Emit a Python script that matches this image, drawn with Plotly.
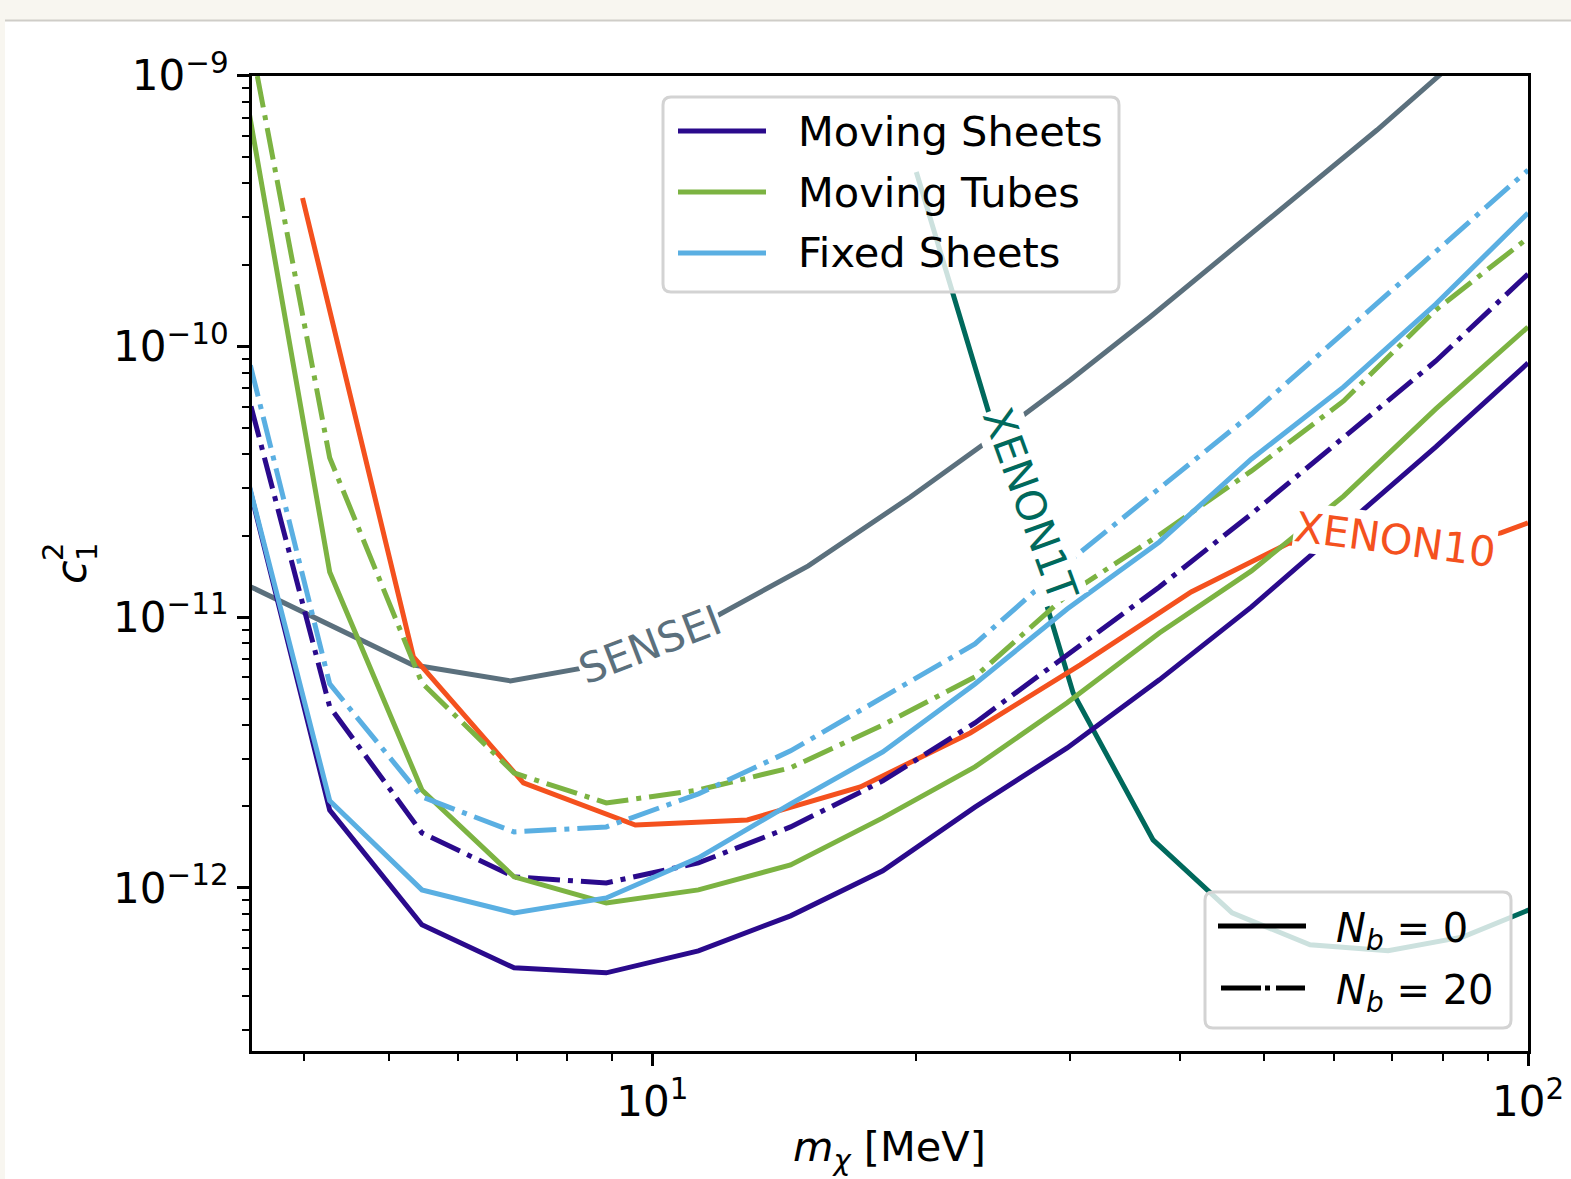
import math
import plotly.graph_objects as go

W, H = 1571, 1179

# ---------------- data ----------------
mass = [3.360, 4.281, 5.456, 6.952, 8.859, 11.288, 14.384, 18.330, 23.357,
        29.764, 37.927, 48.329, 61.585, 78.476, 100.0]

moving_sheets_nb0 = [4.52e-11, 1.94e-12, 7.31e-13, 5.07e-13, 4.86e-13, 5.86e-13, 7.89e-13,
                     1.157e-12, 1.99e-12, 3.29e-12, 5.87e-12, 1.092e-11, 2.156e-11, 4.26e-11, 8.69e-11]
moving_sheets_nb20 = [9.30e-11, 4.67e-12, 1.597e-12, 1.099e-12, 1.044e-12, 1.238e-12, 1.681e-12,
                      2.486e-12, 4.07e-12, 7.26e-12, 1.294e-11, 2.407e-11, 4.63e-11, 8.84e-11, 1.852e-10]
moving_tubes_nb0 = [1.28e-9, 1.47e-11, 2.30e-12, 1.099e-12, 8.81e-13, 9.84e-13, 1.217e-12,
                    1.815e-12, 2.80e-12, 4.83e-12, 8.75e-12, 1.483e-11, 2.80e-11, 5.88e-11, 1.180e-10]
moving_tubes_nb20 = [2.42e-9, 3.88e-11, 5.72e-12, 2.66e-12, 2.06e-12, 2.30e-12, 2.78e-12,
                     4.00e-12, 6.02e-12, 1.209e-11, 2.013e-11, 3.47e-11, 6.29e-11, 1.364e-10, 2.516e-10]
fixed_sheets_nb0 = [4.52e-11, 2.10e-12, 9.84e-13, 8.09e-13, 9.19e-13, 1.292e-12, 2.045e-12,
                    3.18e-12, 5.67e-12, 1.073e-11, 1.897e-11, 3.84e-11, 7.09e-11, 1.435e-10, 3.11e-10]
fixed_sheets_nb20 = [1.318e-10, 5.67e-12, 2.17e-12, 1.611e-12, 1.681e-12, 2.226e-12, 3.21e-12,
                     5.04e-12, 7.97e-12, 1.587e-11, 2.977e-11, 5.63e-11, 1.122e-10, 2.234e-10, 4.48e-10]

xenon10_mass = [3.986, 5.335, 7.125, 9.563, 12.836, 17.28, 23.07, 30.81, 41.24, 53.35, 71.44, 93.15, 100.0]
xenon10_c2 = [3.535e-10, 7.135e-12, 2.444e-12, 1.708e-12, 1.783e-12, 2.362e-12, 3.737e-12,
              6.67e-12, 1.240e-11, 1.881e-11, 1.728e-11, 2.048e-11, 2.23e-11]

sensei_mass = [3.351, 5.321, 6.884, 8.722, 11.345, 15.07, 19.71, 25.63, 30.01, 37.02, 67.23, 81.45]
sensei_c2 = [1.373e-11, 6.67e-12, 5.82e-12, 6.67e-12, 9.37e-12, 1.547e-11, 2.78e-11, 5.13e-11,
             7.52e-11, 1.285e-10, 6.30e-10, 1.086e-9]

xenon1t_mass = [20.02, 24.64, 30.24, 37.31, 45.93, 56.38, 69.22, 84.32, 103.5]
xenon1t_c2 = [4.41e-10, 4.75e-11, 5.25e-12, 1.505e-12, 8.09e-13, 6.17e-13, 5.86e-13, 6.60e-13, 8.66e-13]

legend_names = ["Moving Sheets", "Moving Tubes", "Fixed Sheets"]
nb_labels = ["<i>N</i><sub><i>b</i></sub> = 0", "<i>N</i><sub><i>b</i></sub> = 20"]

x_tickvals = [10, 100]
x_ticktext = ["10<sup>1</sup>", "10<sup>2</sup>"]
y_tickvals = [1e-12, 1e-11, 1e-10, 1e-9]
y_ticktext = ["10<sup>\u221212</sup>", "10<sup>\u221211</sup>", "10<sup>\u221210</sup>", "10<sup>\u22129</sup>"]
x_minor = [4, 5, 6, 7, 8, 9, 20, 30, 40, 50, 60, 70, 80, 90]
y_minor = [m * 10.0 ** e for e in (-13, -12, -11, -10) for m in range(2, 10) if m * 10.0 ** e >= 2.5e-13]

# ---------------- style ----------------
C_MS = "#2a0a8c"
C_MT = "#7cb342"
C_FS = "#5aafe2"
C_X10 = "#f4511e"
C_SEN = "#5b707d"
C_X1T = "#00695c"
FONT = "DejaVu Sans"
LW = 5
DASHDOT = "32px,8px,5px,8px"
FS_TEXT = 41.5
FS_TICK = 42

fig = go.Figure()

def add(x, y, color, dash="solid", width=LW):
    fig.add_trace(go.Scatter(x=x, y=y, mode="lines", showlegend=False,
                             line=dict(color=color, width=width, dash=dash),
                             hoverinfo="skip"))

add(sensei_mass, sensei_c2, C_SEN)
add(xenon1t_mass, xenon1t_c2, C_X1T)
add(xenon10_mass, xenon10_c2, C_X10)
add(mass, moving_sheets_nb0, C_MS)
add(mass, moving_sheets_nb20, C_MS, DASHDOT)
add(mass, moving_tubes_nb0, C_MT)
add(mass, moving_tubes_nb20, C_MT, DASHDOT)
add(mass, fixed_sheets_nb0, C_FS)
add(mass, fixed_sheets_nb20, C_FS, DASHDOT)

# ---------------- helpers for pixel placement of decorations ----------------
def X(px):
    return px / W

def Y(py):
    return 1 - py / H

def rrect(x0, y0, x1, y1, r):
    return (f"M {X(x0 + r)},{Y(y0)} L {X(x1 - r)},{Y(y0)} Q {X(x1)},{Y(y0)} {X(x1)},{Y(y0 + r)} "
            f"L {X(x1)},{Y(y1 - r)} Q {X(x1)},{Y(y1)} {X(x1 - r)},{Y(y1)} "
            f"L {X(x0 + r)},{Y(y1)} Q {X(x0)},{Y(y1)} {X(x0)},{Y(y1 - r)} "
            f"L {X(x0)},{Y(y0 + r)} Q {X(x0)},{Y(y0)} {X(x0 + r)},{Y(y0)} Z")

shapes = []
# page background (white card on beige page)
shapes.append(dict(type="rect", xref="paper", yref="paper", x0=X(5), x1=1.0, y0=0, y1=Y(21),
                   fillcolor="white", line=dict(width=0), layer="below"))
shapes.append(dict(type="line", xref="paper", yref="paper", x0=X(5), x1=1.0, y0=Y(20.5), y1=Y(20.5),
                   line=dict(color="#cfcdc8", width=2), layer="below"))

# legend 1
shapes.append(dict(type="path", xref="paper", yref="paper", path=rrect(663, 97, 1119, 292, 8),
                   fillcolor="rgba(255,255,255,0.8)", line=dict(color="#d3d3d3", width=3), layer="above"))
for color, yy in zip([C_MS, C_MT, C_FS], [131, 192, 253]):
    shapes.append(dict(type="line", xref="paper", yref="paper", x0=X(678), x1=X(766), y0=Y(yy), y1=Y(yy),
                       line=dict(color=color, width=5), layer="above"))
# legend 2
shapes.append(dict(type="path", xref="paper", yref="paper", path=rrect(1205, 892, 1511, 1028, 8),
                   fillcolor="rgba(255,255,255,0.8)", line=dict(color="#d3d3d3", width=3), layer="above"))
shapes.append(dict(type="line", xref="paper", yref="paper", x0=X(1218), x1=X(1306), y0=Y(926), y1=Y(926),
                   line=dict(color="black", width=5), layer="above"))
shapes.append(dict(type="line", xref="paper", yref="paper", x0=X(1221), x1=X(1305), y0=Y(988), y1=Y(988),
                   line=dict(color="black", width=5, dash="40px,4px,5px,6px"), layer="above"))

ann = []
for name, yy in zip(legend_names, [131, 192, 253]):
    ann.append(dict(xref="paper", yref="paper", x=X(796), y=Y(yy), text=name, showarrow=False,
                    xanchor="left", yanchor="middle", font=dict(family=FONT, size=FS_TEXT, color="black")))
for lab, yy in zip(nb_labels, [931, 993]):
    ann.append(dict(xref="paper", yref="paper", x=X(1334), y=Y(yy), text=lab, showarrow=False,
                    xanchor="left", yanchor="middle", font=dict(family=FONT, size=40, color="black")))

# inline curve labels (data coords, log10 for log axes)
def lab(text, x, y, angle, color):
    ann.append(dict(x=math.log10(x), y=math.log10(y), text=text, showarrow=False, textangle=angle,
                    xanchor="center", yanchor="middle", bgcolor="white", borderpad=0,
                    font=dict(family=FONT, size=FS_TEXT, color=color)))

lab("SENSEI", 9.95, 7.9e-12, -21, C_SEN)
lab("XENON1T", 27.0, 2.6e-11, 70, C_X1T)
lab("XENON10", 70.5, 1.93e-11, 7.5, C_X10)

# axis titles
ann.append(dict(xref="paper", yref="paper", x=X(890), y=Y(1149), text="<i>m</i><sub><i>\u03c7</i></sub> [MeV]",
                showarrow=False, xanchor="center", yanchor="middle",
                font=dict(family=FONT, size=FS_TEXT, color="black")))
ann.append(dict(xref="paper", yref="paper", x=X(71), y=Y(572), text="<i>c</i>", showarrow=False,
                textangle=-90, xanchor="center", yanchor="middle", font=dict(family=FONT, size=43, color="black")))
ann.append(dict(xref="paper", yref="paper", x=X(53), y=Y(552), text="2", showarrow=False,
                textangle=-90, xanchor="center", yanchor="middle", font=dict(family=FONT, size=29, color="black")))
ann.append(dict(xref="paper", yref="paper", x=X(87), y=Y(552), text="1", showarrow=False,
                textangle=-90, xanchor="center", yanchor="middle", font=dict(family=FONT, size=29, color="black")))

axis_common = dict(showline=True, linecolor="black", linewidth=3, mirror=True, showgrid=False,
                   zeroline=False, ticks="outside", tickcolor="black", tickwidth=3, ticklen=12,
                   tickfont=dict(family=FONT, size=FS_TICK, color="black"), automargin=False)

fig.update_layout(
    width=W, height=H, margin=dict(l=0, r=0, t=0, b=0, pad=0),
    paper_bgcolor="#f8f6f0", plot_bgcolor="rgba(0,0,0,0)",
    showlegend=False, shapes=shapes, annotations=ann,
    xaxis=dict(type="log", range=[math.log10(3.49), 2], domain=[X(252), X(1528)],
               tickmode="array", tickvals=x_tickvals, ticktext=x_ticktext,
               minor=dict(ticks="outside", tickvals=x_minor, ticklen=7, tickwidth=2, tickcolor="black",
                          showgrid=False),
               **axis_common),
    yaxis=dict(type="log", range=[math.log10(2.5e-13), -9], domain=[Y(1051), Y(75.7)],
               tickmode="array", tickvals=y_tickvals, ticktext=y_ticktext,
               minor=dict(ticks="outside", tickvals=y_minor, ticklen=7, tickwidth=2, tickcolor="black",
                          showgrid=False),
               **axis_common),
)

fig.write_html("out.html")
